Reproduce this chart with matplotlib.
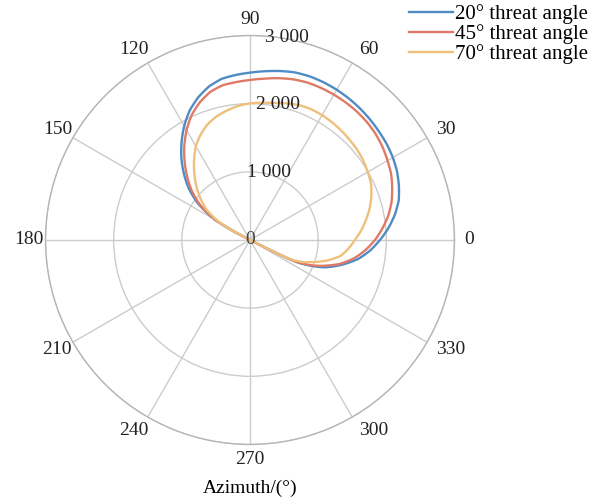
import numpy as np
import matplotlib.pyplot as plt
from matplotlib import transforms

plt.rcParams['font.family'] = ['Liberation Serif', 'DejaVu Serif']
plt.rcParams['font.size'] = 14

# azimuth (deg) and range for each threat angle
azimuth = [-27, -26, -25, -22.5, -20, -15, -10, -5, 0, 5, 10, 15, 20, 25, 30, 35, 40,
           45, 50, 55, 60, 65, 70, 75, 80, 85, 90, 95, 100, 105, 110, 115, 120, 125,
           130, 135, 140, 145, 150, 152, 153]
range_20 = [0, 620, 800, 1010, 1175, 1400, 1610, 1770, 1907, 2040, 2160, 2260, 2325,
            2380, 2420, 2450, 2472, 2495, 2515, 2532, 2545, 2553, 2555, 2545, 2517,
            2485, 2455, 2430, 2400, 2330, 2225, 2095, 1930, 1750, 1565, 1370, 1170,
            930, 591, 300, 0]
range_45 = [0, 600, 780, 970, 1110, 1360, 1550, 1700, 1834, 1950, 2060, 2150, 2220,
            2285, 2330, 2375, 2410, 2435, 2450, 2458, 2462, 2462, 2458, 2440, 2410,
            2375, 2347, 2325, 2305, 2250, 2150, 2023, 1860, 1680, 1490, 1300, 1110,
            890, 575, 290, 0]
range_70 = [0, 560, 700, 850, 950, 1170, 1350, 1450, 1540, 1640, 1730, 1820, 1895,
            1960, 1995, 2030, 2055, 2072, 2090, 2105, 2115, 2118, 2105, 2075, 2040,
            2020, 2005, 1975, 1930, 1880, 1810, 1710, 1590, 1430, 1270, 1110, 950,
            780, 520, 260, 0]

labels = ['20° threat angle', '45° threat angle', '70° threat angle']
colors = ['#4f8cc4', '#df7a66', '#eec07a']
rticks = [0, 1000, 2000, 3000]
rtick_labels = ['0', '1 000', '2 000', '3 000']
theta_ticks = list(range(0, 360, 30))

fig = plt.figure(figsize=(5.9, 5.01), dpi=100)
ax = fig.add_axes([0.0771, 0.1128, 0.6932, 0.8164], projection='polar')

th = np.deg2rad(azimuth)
for r, c, lab in zip([range_20, range_45, range_70], colors, labels):
    ln, = ax.plot(th, r, color=c, lw=1.7, label=lab)
    # let the polar transform draw arcs between the points
    ln.get_path()._interpolation_steps = 20

ax.set_ylim(0, 3000)
ax.set_yticks(rticks)
ax.set_yticklabels([])
ax.set_xticks(np.deg2rad(theta_ticks))
ax.set_xticklabels([])
ax.grid(True, color='#cccccc', lw=1.0)
ax.spines['polar'].set_color('#b5b5b5')
ax.spines['polar'].set_linewidth(1.0)

# azimuth labels just outside the frame (sizes in pixels of a 409 px wide axes)
size = 409.0
for t in theta_ticks:
    a = np.deg2rad(t)
    c, s = np.cos(a), np.sin(a)
    if abs(c) < 0.1:
        ha, dx = 'center', 0
    else:
        ha, dx = ('left' if c > 0 else 'right'), 4 + 210 * c
    ax.text(0.5 + dx / size, 0.5 + 220 * s / size, str(t),
            transform=ax.transAxes, ha=ha, va='center', color='#222222',
            fontsize=14)

shift = transforms.offset_copy(ax.transData, fig=fig, x=10, y=0, units='dots')
for r, t in zip(rticks, rtick_labels):
    if r == 0:
        ax.text(0, 0, t, ha='center', va='center', color='#444444', fontsize=14)
    else:
        ax.text(np.deg2rad(82.5), r, t, ha='center', va='center', color='#222222',
                fontsize=14, transform=shift)

fig.text(250 / 590, 1 - 488 / 501, 'Azimuth/(°)', ha='center', va='center', fontsize=14)

fig.legend(loc='upper right', bbox_to_anchor=(1.0, 1.0 - 2 / 501), frameon=False,
           fontsize=15, handlelength=2.1, handletextpad=0.1, labelspacing=0.0,
           borderpad=0.0, borderaxespad=0.1)

fig.savefig('out.png', dpi=100)
